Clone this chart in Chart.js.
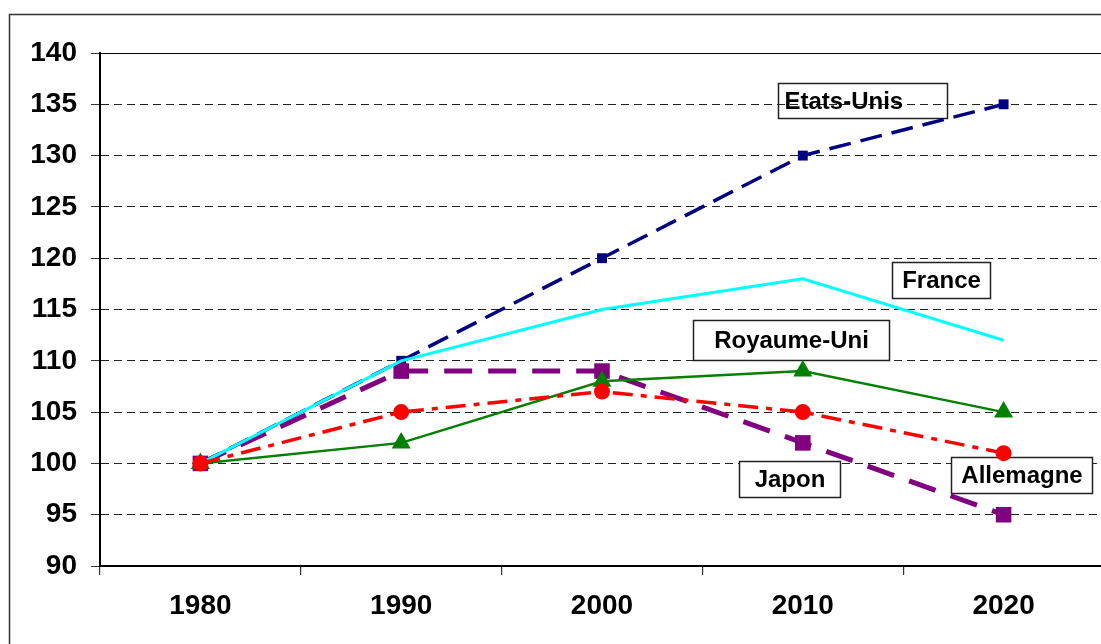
<!DOCTYPE html>
<html>
<head>
<meta charset="utf-8">
<script src="https://cdn.jsdelivr.net/npm/chart.js@4/dist/chart.umd.min.js"></script>
<style>
  html, body { margin: 0; padding: 0; background: #fff; overflow: hidden; }
  #wrap { width: 1110px; height: 644px; }
</style>
</head>
<body>
<div id="wrap"><canvas id="c" width="1110" height="644"></canvas></div>
<script>
// Years on the horizontal axis
const years = ['1980', '1990', '2000', '2010', '2020'];

// Index values (1980 = 100)
const etatsUnis  = [100, 110, 120, 130, 135];
const france     = [100, 110, 115, 118, 112];
const royaumeUni = [100, 102, 108, 109, 105];
const allemagne  = [100, 105, 107, 105, 101];
const japon      = [100, 109, 109, 102, 95];

// Vertical axis range
const yMin = 90;
const yMax = 140;
const yStep = 5;

// Series names written in boxes, anchored in data units (category index, value)
const seriesNames = ['Etats-Unis', 'France', 'Royaume-Uni', 'Japon', 'Allemagne'];
const nameAnchorX = [3.296, 3.687, 2.94, 2.933, 4.088];
const nameAnchorY = [135.37, 117.88, 112.03, 98.48, 98.87];

const FONT = '"Liberation Sans", Arial, sans-serif';

// Boxed series names (drawn under the lines)
const nameBoxes = {
  id: 'nameBoxes',
  beforeDatasetsDraw(chart) {
    const { ctx, scales: { x, y } } = chart;
    const boxW = [169, 98, 196, 101, 141];
    const boxH = [35, 36, 40, 36, 36];
    const filled = [false, true, true, true, true];
    const leftAligned = [true, false, false, false, false];
    ctx.save();
    ctx.font = 'bold 24px ' + FONT;
    ctx.textBaseline = 'middle';
    seriesNames.forEach((name, i) => {
      const cx = x.getPixelForValue(nameAnchorX[i]);
      const cy = y.getPixelForValue(nameAnchorY[i]);
      const l = Math.round(cx - boxW[i] / 2) + 0.5;
      const t = Math.round(cy - boxH[i] / 2) + 0.5;
      if (filled[i]) {
        ctx.fillStyle = '#fff';
        ctx.fillRect(l, t, boxW[i], boxH[i]);
      }
      ctx.lineWidth = 1.5;
      ctx.strokeStyle = '#222';
      ctx.strokeRect(l, t, boxW[i], boxH[i]);
      ctx.fillStyle = '#000';
      if (leftAligned[i]) {
        ctx.textAlign = 'left';
        ctx.fillText(name, l + 6, t + boxH[i] / 2 + 1);
      } else {
        ctx.textAlign = 'center';
        ctx.fillText(name, l + boxW[i] / 2, t + boxH[i] / 2 + 1);
      }
    });
    ctx.restore();
  }
};

// Outer frame and the solid top line of the plot
const frame = {
  id: 'frame',
  beforeDraw(chart) {
    const { ctx } = chart;
    ctx.save();
    ctx.fillStyle = '#fff';
    ctx.fillRect(0, 0, chart.width, chart.height);
    ctx.restore();
  },
  afterDraw(chart) {
    const { ctx, chartArea, scales: { y } } = chart;
    ctx.save();
    ctx.strokeStyle = '#333';
    ctx.lineWidth = 1.5;
    ctx.strokeRect(9.5, 14.5, chart.width + 20, chart.height + 20);
    const ty = Math.round(y.getPixelForValue(yMax)) + 0.5;
    ctx.strokeStyle = '#000';
    ctx.lineWidth = 1.2;
    ctx.beginPath();
    ctx.moveTo(chartArea.left, ty);
    ctx.lineTo(chartArea.right, ty);
    ctx.stroke();
    ctx.restore();
  }
};

new Chart(document.getElementById('c'), {
  type: 'line',
  data: {
    labels: years,
    datasets: [
      {
        label: 'Etats-Unis', data: etatsUnis, order: 5,
        borderColor: '#000080', backgroundColor: '#000080',
        borderWidth: 3.5, borderDash: [22, 10],
        pointStyle: 'rect', pointRadius: 7, pointBorderWidth: 0
      },
      {
        label: 'France', data: france, order: 3,
        borderColor: '#00FFFF', backgroundColor: '#00FFFF',
        borderWidth: 3, pointRadius: 0
      },
      {
        label: 'Royaume-Uni', data: royaumeUni, order: 2,
        borderColor: '#008000', backgroundColor: '#008000',
        borderWidth: 2.5,
        pointStyle: 'triangle', pointRadius: 11, pointBorderWidth: 0
      },
      {
        label: 'Allemagne', data: allemagne, order: 1,
        borderColor: '#FF0000', backgroundColor: '#FF0000',
        borderWidth: 3.5, borderDash: [20, 8, 6, 8],
        pointStyle: 'circle', pointRadius: 8, pointBorderWidth: 0
      },
      {
        label: 'Japon', data: japon, order: 4,
        borderColor: '#800080', backgroundColor: '#800080',
        borderWidth: 5, borderDash: [28, 16],
        pointStyle: 'rect', pointRadius: 11, pointBorderWidth: 0
      }
    ]
  },
  options: {
    responsive: false,
    animation: false,
    devicePixelRatio: 1,
    layout: {
      autoPadding: false,
      padding: { top: 53, right: 6, left: 0, bottom: 0 }
    },
    plugins: {
      legend: { display: false },
      tooltip: { enabled: false }
    },
    elements: { line: { tension: 0 } },
    scales: {
      x: {
        type: 'category',
        offset: true,
        grid: {
          offset: true,
          drawOnChartArea: false,
          drawTicks: true,
          tickLength: 9,
          color: '#333',
          lineWidth: 1.2
        },
        border: { display: true, color: '#000', width: 2 },
        ticks: {
          color: '#000',
          font: { family: FONT, size: 28, weight: 'bold' },
          padding: 14,
          maxRotation: 0
        },
        afterFit(scale) {
          scale.height = 78;
          scale.paddingLeft = 0;
          scale.paddingRight = 0;
        }
      },
      y: {
        min: yMin,
        max: yMax,
        grid: {
          color: '#222',
          lineWidth: 1,
          drawTicks: true,
          tickLength: 9,
          tickColor: '#333'
        },
        border: { display: true, color: '#000', width: 2, dash: [8, 5] },
        ticks: {
          stepSize: yStep,
          color: '#000',
          font: { family: FONT, size: 28, weight: 'bold' },
          padding: 14
        },
        afterFit(scale) { scale.width = 100; }
      }
    }
  },
  plugins: [frame, nameBoxes]
});
</script>
</body>
</html>
